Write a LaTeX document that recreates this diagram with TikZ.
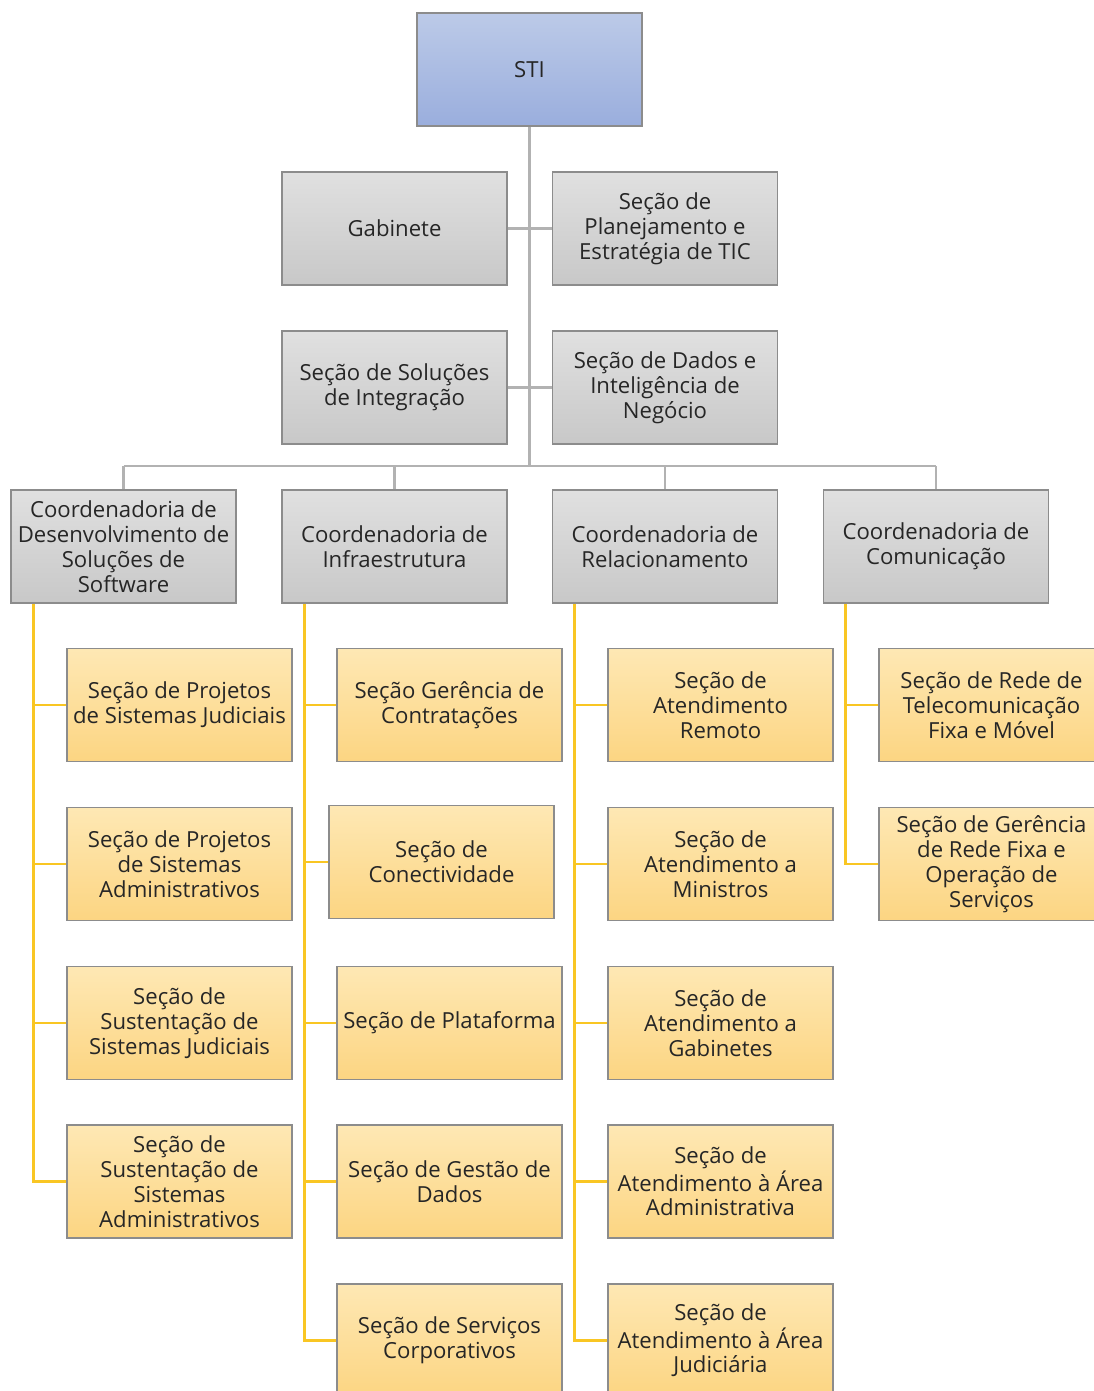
\documentclass[tikz,border=0pt]{standalone}
\usepackage{fontspec}
\setmainfont{Open Sans}
\definecolor{boxline}{HTML}{8C8C8C}
\definecolor{linegray}{HTML}{B2B2B2}
\definecolor{lineyel}{HTML}{F9C623}
\definecolor{blutop}{HTML}{BCCAE8}
\definecolor{blubot}{HTML}{9AAEDD}
\definecolor{graytop}{HTML}{E0E0E0}
\definecolor{graybot}{HTML}{C8C8C8}
\definecolor{yeltop}{HTML}{FEE8B4}
\definecolor{yelbot}{HTML}{FCD582}
\begin{document}
\begin{tikzpicture}[x=0.75pt,y=-0.75pt,
    box/.style={draw=boxline, line width=0.9pt, minimum width=168.75pt, minimum height=84.75pt,
        align=center, inner sep=0pt, font=\fontsize{16.6}{18.6}\selectfont, text=black!85},
    topbox/.style={box, top color=blutop, bottom color=blubot},
    graybox/.style={box, top color=graytop, bottom color=graybot},
    secbox/.style={box, top color=yeltop, bottom color=yelbot},
    grayline/.style={draw=linegray, line width=2.2pt},
    yelline/.style={draw=lineyel, line width=2.2pt}]
            \useasboundingbox (0,0) rectangle (1094,1391);
            \clip (0,0) rectangle (1094,1391);

            % top
            \node[topbox] (sti) at (529.5,69.5) {STI};
            \node[graybox] (gab) at (394.5,228.5) {Gabinete};
            \node[graybox] (plan) at (665,228.5) {Seção de\\Planejamento e\\Estratégia de TIC};
            \node[graybox] (integ) at (394.5,387.5) {Seção de Soluções\\de Integração};
            \node[graybox] (dados) at (665,387.5) {Seção de Dados e\\Inteligência de\\Negócio};

            % coordenadorias
            \node[graybox] (cdss) at (123.5,546.5) {Coordenadoria de\\Desenvolvimento de\\Soluções de\\Software};
            \node[graybox] (cinf) at (394.5,546.5) {Coordenadoria de\\Infraestrutura};
            \node[graybox] (crel) at (665,546.5) {Coordenadoria de\\Relacionamento};
            \node[graybox] (ccom) at (936,546.5) {Coordenadoria de\\Comunicação};

            \coordinate (bus) at (529.5,466);

            % secoes
            \node[secbox] (s11) at (179.5,705) {Seção de Projetos\\de Sistemas Judiciais};
            \node[secbox] (s12) at (179.5,864) {Seção de Projetos\\de Sistemas\\Administrativos};
            \node[secbox] (s13) at (179.5,1023) {Seção de\\Sustentação de\\Sistemas Judiciais};
            \node[secbox] (s14) at (179.5,1181.5) {Seção de\\Sustentação de\\Sistemas\\Administrativos};

            \node[secbox] (s21) at (449.5,705) {Seção Gerência de\\Contratações};
            \node[secbox] (s22) at (441.5,862) {Seção de\\Conectividade};
            \node[secbox] (s23) at (449.5,1023) {Seção de Plataforma};
            \node[secbox] (s24) at (449.5,1181.5) {Seção de Gestão de\\Dados};
            \node[secbox] (s25) at (449.5,1340.5) {Seção de Serviços\\Corporativos};

            \node[secbox] (s31) at (720.5,705) {Seção de\\Atendimento\\Remoto};
            \node[secbox] (s32) at (720.5,864) {Seção de\\Atendimento a\\Ministros};
            \node[secbox] (s33) at (720.5,1023) {Seção de\\Atendimento a\\Gabinetes};
            \node[secbox] (s34) at (720.5,1181.5) {Seção de\\Atendimento à Área\\Administrativa};
            \node[secbox] (s35) at (720.5,1340.5) {Seção de\\Atendimento à Área\\Judiciária};

            \node[secbox] (s41) at (991.5,705) {Seção de Rede de\\Telecomunicação\\Fixa e Móvel};
            \node[secbox] (s42) at (991.5,864) {Seção de Gerência\\de Rede Fixa e\\Operação de\\Serviços};

            % gray connectors
            \draw[grayline] (sti.south) -- (bus);
            \draw[grayline] (gab.east) -- (plan.west);
            \draw[grayline] (integ.east) -- (dados.west);
            \draw[grayline] (cdss.north |- bus) -- (ccom.north |- bus);
            \foreach \c in {cdss,cinf,crel,ccom}
                \draw[grayline] (\c.north |- bus) -- (\c.north);

            % yellow connectors
            \draw[yelline] ([xshift=17.25pt]cdss.south west) |- (s14.west);
            \draw[yelline] ([xshift=17.25pt]cinf.south west) |- (s25.west);
            \draw[yelline] ([xshift=17.25pt]crel.south west) |- (s35.west);
            \draw[yelline] ([xshift=17.25pt]ccom.south west) |- (s42.west);
            \foreach \s in {s11,s12,s13}
                \draw[yelline] ([xshift=17.25pt]cdss.south west |- \s.west) -- (\s.west);
            \foreach \s in {s21,s22,s23,s24}
                \draw[yelline] ([xshift=17.25pt]cinf.south west |- \s.west) -- (\s.west);
            \foreach \s in {s31,s32,s33,s34}
                \draw[yelline] ([xshift=17.25pt]crel.south west |- \s.west) -- (\s.west);
            \draw[yelline] ([xshift=17.25pt]ccom.south west |- s41.west) -- (s41.west);
        \end{tikzpicture}
\end{document}
